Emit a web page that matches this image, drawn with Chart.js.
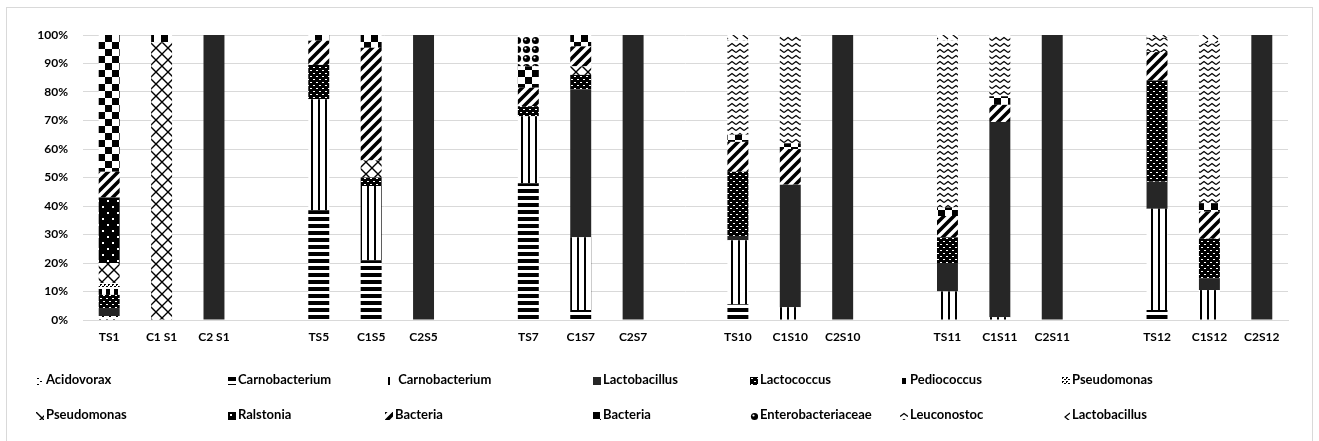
<!DOCTYPE html>
<html>
<head>
<meta charset="utf-8">
<script src="https://cdn.jsdelivr.net/npm/chart.js@4"></script>
<style>
  html,body{margin:0;padding:0;background:#fff;}
  #wrap{position:relative;width:1319px;height:441px;overflow:hidden;}
  #frame{position:absolute;left:6px;top:7px;width:1307px;height:460px;border:1px solid #d9d9d9;box-sizing:border-box;}
  #c{position:absolute;left:0;top:0;}
  .lg{position:absolute;font-family:Lato,"Liberation Sans",sans-serif;font-weight:bold;font-size:13px;color:#000;white-space:nowrap;line-height:15px;}
  .lg canvas{display:inline-block;vertical-align:-1px;margin-right:2px;}
</style>
</head>
<body>
<div id="wrap">
  <div id="frame"></div>
  <canvas id="c" width="1319" height="441"></canvas>
  <div id="legend"></div>
</div>
<script>
// ---- data ----
const categories = ['TS1','C1 S1','C2 S1','','TS5','C1S5','C2S5','','TS7','C1S7','C2S7','','TS10','C1S10','C2S10','','TS11','C1S11','C2S11','','TS12','C1S12','C2S12'];
const seriesNames = ['Acidovorax','Carnobacterium','Carnobacterium','Lactobacillus','Lactococcus','Pediococcus','Pseudomonas','Pseudomonas','Ralstonia','Bacteria','Bacteria','Enterobacteriaceae','Leuconostoc','Lactobacillus'];
const acidovorax   = [1.4,0,0,null,0,0,0,null,0,0,0,null,0,0,0,null,0,0,0,null,0,0,0];
const carnoH       = [0,0,0,null,38.5,21,0,null,48,3.5,0,null,5.5,0,0,null,0,0,0,null,3.5,0,0];
const carnoV       = [0,0,0,null,39,26,0,null,23.5,25.5,0,null,22.5,4.5,0,null,10,1,0,null,35.5,10.5,0];
const lactobacillus= [2.8,0,100,null,0,0,100,null,0,52,100,null,1.5,43,100,null,10,68.5,100,null,9.5,4,100];
const lactococcus  = [4.6,0,0,null,12,3,0,null,3.5,5,0,null,22.5,0,0,null,9,0,0,null,35.5,14,0];
const pediococcus  = [2.4,0,0,null,0,0,0,null,0,0,0,null,0,0,0,null,0,0,0,null,0,0,0];
const pseudomonasA = [1.8,0,0,null,0,0,0,null,0,0,0,null,0,0,0,null,0,0,0,null,0,0,0];
const pseudomonasB = [7,97.5,0,null,0,6,0,null,0,3,0,null,0,0,0,null,0,0,0,null,0,0,0];
const ralstonia    = [23,0,0,null,0,0,0,null,0,0,0,null,0,0,0,null,0,0,0,null,0,0,0];
const bacteriaA    = [9,0,0,null,8.5,39.5,0,null,6.5,7,0,null,10.5,12.5,0,null,7.5,6,0,null,10,9.5,0];
const bacteriaB    = [48,2.5,0,null,2,4.5,0,null,7.5,4,0,null,2.5,2,0,null,3,3,0,null,0,3,0];
const enterobact   = [0,0,0,null,0,0,0,null,11,0,0,null,0,0,0,null,0,0,0,null,0,0,0];
const leuconostoc  = [0,0,0,null,0,0,0,null,0,0,0,null,33,38,0,null,58.5,21.5,0,null,5,56,0];
const lactobacilB  = [0,0,0,null,0,0,0,null,0,0,0,null,2,0,0,null,2,0,0,null,1,3,0];
const seriesValues = [acidovorax,carnoH,carnoV,lactobacillus,lactococcus,pediococcus,pseudomonasA,pseudomonasB,ralstonia,bacteriaA,bacteriaB,enterobact,leuconostoc,lactobacilB];
const yTicks = [0,10,20,30,40,50,60,70,80,90,100];

// ---- patterns ----
const K = '#000', W = '#fff';
const tmp = document.createElement('canvas').getContext('2d');
function pat(w,h,draw){
  const c=document.createElement('canvas'); c.width=w; c.height=h;
  const x=c.getContext('2d'); x.fillStyle=W; x.fillRect(0,0,w,h); draw(x,w,h);
  return tmp.createPattern(c,'repeat');
}
const fills = [
  pat(7,6,(x)=>{x.fillStyle=K;x.fillRect(1,1,2,1);x.fillRect(4,4,2,1);}),
  pat(1,7,(x)=>{x.fillStyle=K;x.fillRect(0,0,1,4);}),
  pat(7,1,(x)=>{x.fillStyle=K;x.fillRect(3,0,2,1);}),
  '#262626',
  pat(6,6,(x)=>{x.fillStyle=K;x.fillRect(0,0,6,6);x.fillStyle=W;x.fillRect(1,1,2,1);x.fillRect(4,4,2,1);}),
  pat(8,8,(x)=>{x.fillStyle=K;x.fillRect(2,1,4,6);}),
  pat(4,4,(x)=>{x.fillStyle=K;x.fillRect(0,0,2,1);x.fillRect(2,2,2,1);x.fillRect(0,1,1,1);}),
  pat(12,12,(x)=>{x.strokeStyle=K;x.lineWidth=1.4;x.beginPath();x.moveTo(0,0);x.lineTo(12,12);x.moveTo(12,0);x.lineTo(0,12);x.stroke();}),
  pat(10,12,(x)=>{x.fillStyle=K;x.fillRect(0,0,10,12);x.fillStyle=W;x.fillRect(2,2,2,2);x.fillRect(7,8,2,2);}),
  pat(10,10,(x)=>{x.strokeStyle=K;x.lineWidth=3.6;x.beginPath();x.moveTo(-1,11);x.lineTo(11,-1);x.moveTo(-6,6);x.lineTo(6,-6);x.moveTo(4,16);x.lineTo(16,4);x.stroke();}),
  pat(14,14,(x)=>{x.fillStyle=K;x.fillRect(0,0,7,7);x.fillRect(7,7,7,7);}),
  pat(9,9,(x)=>{x.fillStyle=K;x.beginPath();x.arc(4.5,4.5,3.6,0,Math.PI*2);x.fill();x.fillStyle=W;x.beginPath();x.arc(3.5,3.5,1.1,0,Math.PI*2);x.fill();}),
  pat(8,6,(x)=>{x.strokeStyle=K;x.lineWidth=1.3;x.beginPath();x.moveTo(0,4.5);x.lineTo(4,1.5);x.lineTo(8,4.5);x.stroke();}),
  pat(10,10,(x)=>{x.strokeStyle=K;x.lineWidth=1.2;x.beginPath();x.moveTo(8,1);x.lineTo(3,5);x.lineTo(8,9);x.stroke();})
];

// ---- chart ----
const datasets = seriesNames.map((n,i)=>({
  label:n, data:seriesValues[i], backgroundColor:fills[i], borderWidth:0,
  categoryPercentage:0.8, barPercentage:0.5
}));
const FONT = {family:'Lato, "Liberation Sans", sans-serif', size:12, weight:'bold'};
new Chart(document.getElementById('c'),{
  type:'bar',
  data:{labels:categories, datasets},
  options:{
    responsive:false, animation:false, devicePixelRatio:1,
    layout:{padding:{left:0,right:31,top:35,bottom:0}},
    plugins:{legend:{display:false},tooltip:{enabled:false}},
    scales:{
      x:{stacked:true,
         grid:{display:false,drawTicks:false},
         border:{display:true,color:'#d9d9d9',width:1},
         ticks:{font:FONT,color:'#000',padding:10,autoSkip:false,maxRotation:0},
         afterFit:(s)=>{s.height=121;}},
      y:{stacked:true,min:0,max:100,
         afterBuildTicks:(s)=>{s.ticks=yTicks.map(v=>({value:v}));},
         grid:{color:'#d9d9d9',lineWidth:1,drawTicks:false},
         border:{display:false},
         ticks:{font:FONT,color:'#000',padding:15,callback:(v)=>v+'%'},
         afterFit:(s)=>{s.width=83;}}
    }
  }
});

// ---- legend ----
const legendX = [36,228,385,593,750,900,1062];
const legendY = [372,407];
const lg = document.getElementById('legend');
seriesNames.forEach((n,i)=>{
  const d=document.createElement('div'); d.className='lg';
  d.style.left=legendX[i%7]+'px'; d.style.top=legendY[Math.floor(i/7)]+'px';
  const sw=document.createElement('canvas'); sw.width=8; sw.height=8;
  const sx=sw.getContext('2d'); sx.fillStyle=fills[i]; sx.fillRect(0,0,8,8);
  d.appendChild(sw); d.appendChild(document.createTextNode((i===2?' ':'')+n));
  lg.appendChild(d);
});
</script>
</body>
</html>
